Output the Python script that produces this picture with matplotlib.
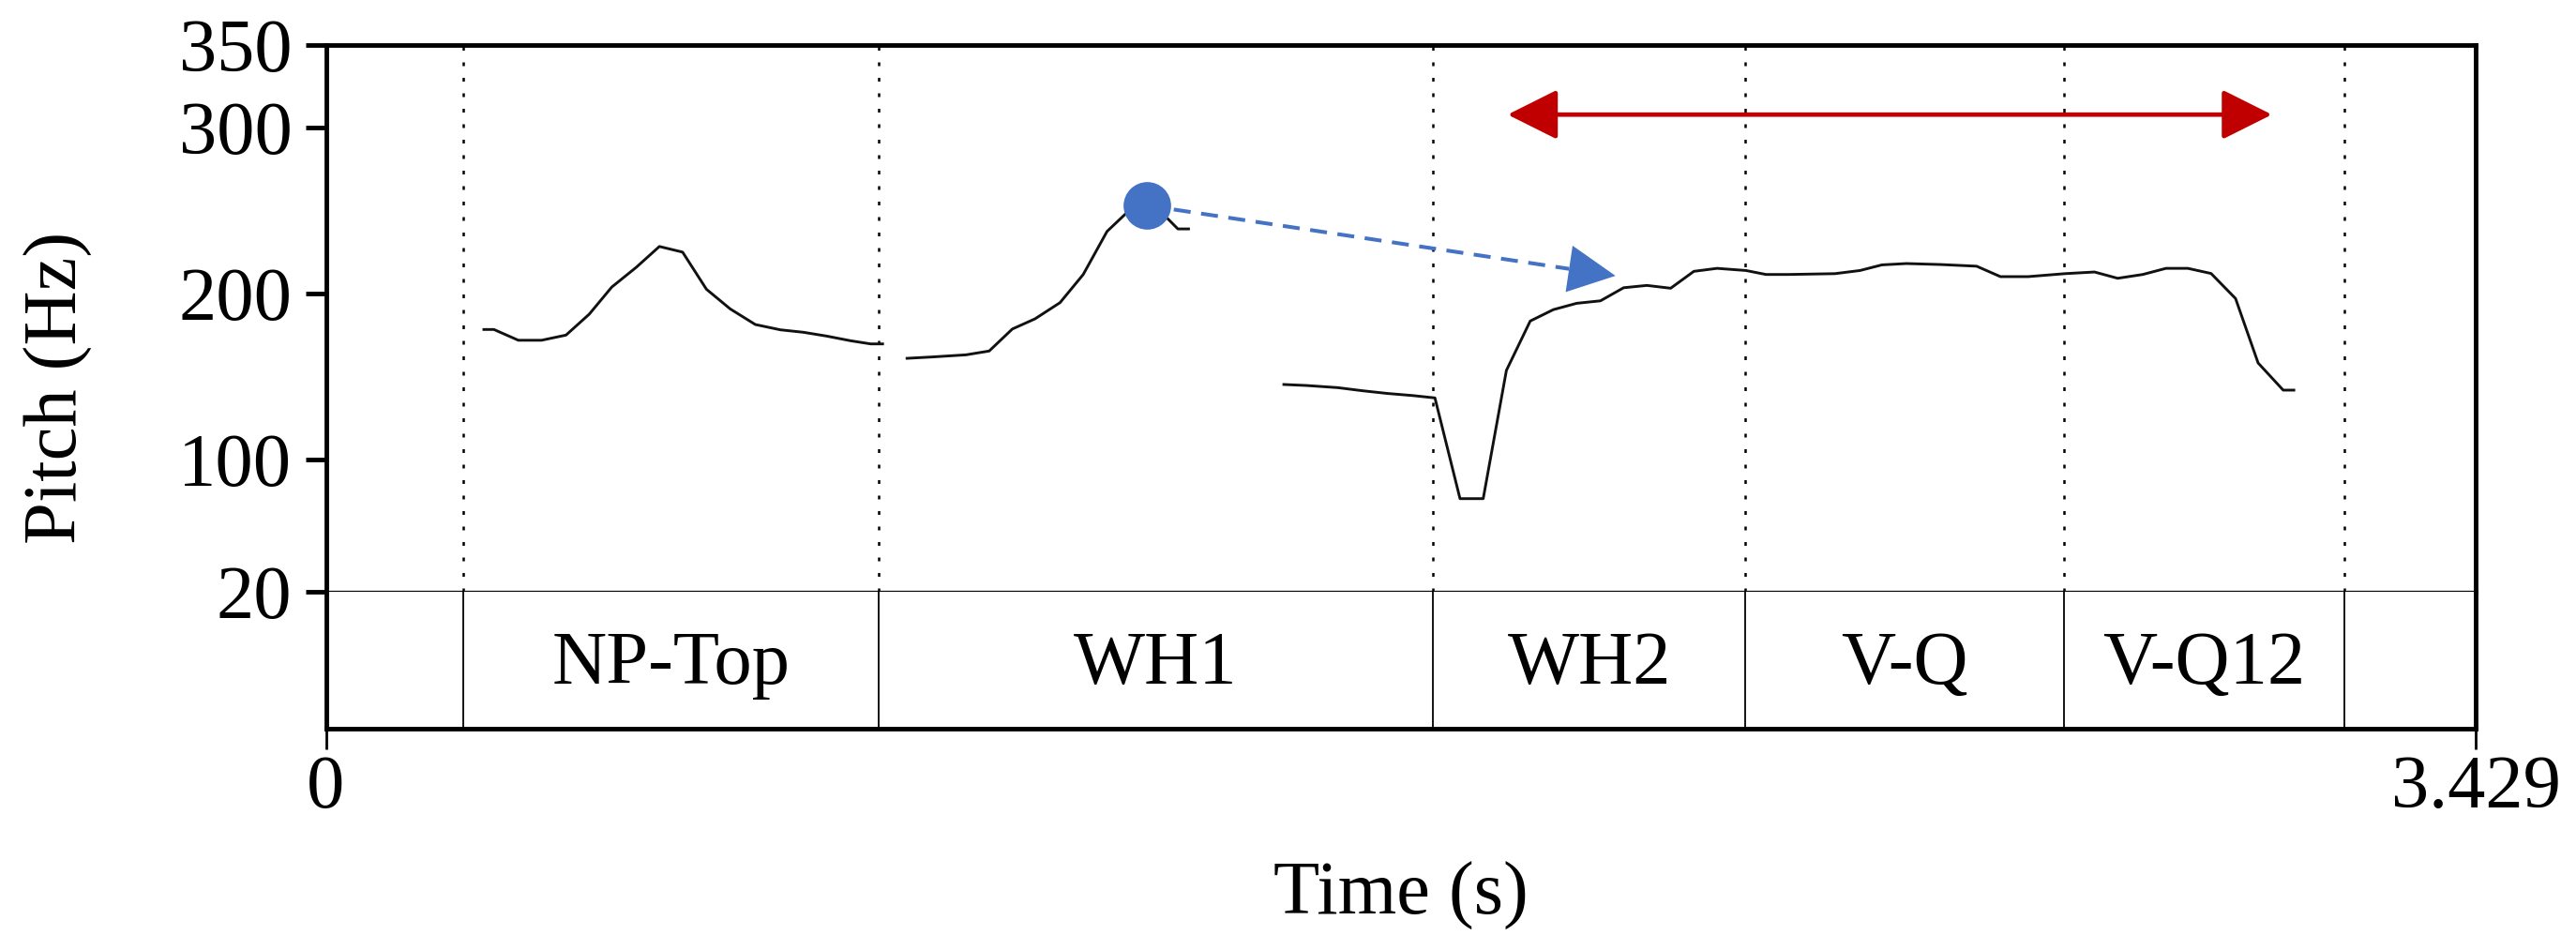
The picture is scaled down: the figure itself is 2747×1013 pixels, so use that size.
import matplotlib
matplotlib.use("Agg")
import matplotlib.pyplot as plt
from matplotlib.patches import FancyArrowPatch

plt.rcParams['font.family'] = ['Liberation Serif', 'DejaVu Serif']

# pitch contour (s, Hz), three voiced stretches
seg1_t = [0.252, 0.268, 0.307, 0.344, 0.383, 0.420, 0.456, 0.495, 0.532, 0.569,
          0.607, 0.645, 0.685, 0.725, 0.762, 0.799, 0.837, 0.869, 0.888]
seg1_f = [178.3, 178.3, 171.8, 171.8, 174.9, 187.5, 203.9, 215.8, 228.4, 225.0,
          202.6, 190.7, 181.3, 178.1, 176.6, 174.3, 171.5, 169.6, 169.6]

seg2_t = [0.927, 0.966, 1.021, 1.058, 1.095, 1.131, 1.171, 1.208, 1.246, 1.275,
          1.308, 1.343, 1.359, 1.376]
seg2_f = [160.9, 161.7, 163.0, 165.3, 178.6, 184.7, 194.5, 211.5, 237.5, 247.9,
          253.7, 245.1, 239.0, 239.0]

seg3_t = [1.528, 1.564, 1.614, 1.654, 1.693, 1.734, 1.769, 1.809, 1.846, 1.883,
          1.921, 1.958, 1.995, 2.033, 2.070, 2.107, 2.145, 2.182, 2.219, 2.265,
          2.297, 2.332, 2.407, 2.447, 2.482, 2.521, 2.576, 2.633, 2.671, 2.715,
          2.774, 2.821, 2.858, 2.898, 2.935, 2.970, 3.007, 3.046, 3.082, 3.122,
          3.139]
seg3_f = [145.1, 144.5, 143.2, 141.3, 139.7, 138.4, 137.0, 76.2, 76.2, 153.6,
          183.4, 190.3, 194.1, 195.6, 203.5, 204.9, 203.2, 213.4, 215.2, 213.9,
          211.5, 211.5, 212.0, 213.9, 217.3, 218.1, 217.5, 216.5, 210.2, 210.2,
          212.0, 213.0, 209.2, 211.5, 215.2, 215.2, 212.1, 197.0, 158.1, 141.7,
          141.7]

# textgrid tier
bounds = [0.219, 0.881, 1.766, 2.264, 2.773, 3.219]
labels = ['NP-Top', 'WH1', 'WH2', 'V-Q', 'V-Q12']

duration = 3.429
yticks = [20, 100, 200, 300, 350]

# annotation anchors (s, Hz)
dot_pt = (1.309, 253.2)
blue_base = (1.983, 214.9)
blue_tip = (2.057, 210.7)
red_left = (1.885, 308.0)
red_right = (3.104, 308.0)

BLUE = '#4472C4'
RED = '#C00000'
FS = 58

fig = plt.figure(figsize=(27.47, 10.13), dpi=100)
W, H = 2747, 1013
left, right = 347.5, 2640
ax = fig.add_axes([left / W, 1 - 631 / H, (right - left) / W, (631 - 48) / H])
tier = fig.add_axes([left / W, 1 - 777 / H, (right - left) / W, (777 - 631) / H], sharex=ax)

# pitch panel
for t, f in [(seg1_t, seg1_f), (seg2_t, seg2_f), (seg3_t, seg3_f)]:
    ax.plot(t, f, color='#111111', lw=2.1, zorder=3)
ax.vlines(bounds, 20, 350, colors='black', linestyles=(0, (1.6, 5)), lw=1.8, zorder=2)
ax.set_xlim(0, duration)
ax.set_ylim(20, 350)
ax.set_yticks(yticks)
ax.tick_params(axis='y', direction='out', length=16, width=3.5, pad=10, labelsize=FS)
ax.tick_params(axis='x', bottom=False, labelbottom=False)
for s in ['left', 'top', 'right']:
    ax.spines[s].set_linewidth(3.5)
ax.spines['bottom'].set_linewidth(1.6)

# red double arrow
ax.add_patch(FancyArrowPatch(red_left, red_right,
                             arrowstyle='<|-|>,head_length=33,head_width=16.5',
                             mutation_scale=1, lw=3.4, color=RED,
                             shrinkA=0, shrinkB=0, zorder=4))

# blue dashed arrow from the peak dot
ax.plot([dot_pt[0], blue_base[0]], [dot_pt[1], blue_base[1]], color=BLUE,
        lw=2.9, linestyle=(0, (4.5, 2.8)), zorder=4)
ax.add_patch(FancyArrowPatch(blue_base, blue_tip,
                             arrowstyle='-|>,head_length=36,head_width=18',
                             mutation_scale=1, lw=0, color=BLUE,
                             shrinkA=0, shrinkB=0, zorder=4))
ax.plot(*dot_pt, 'o', color=BLUE, markersize=36.5, markeredgewidth=0, zorder=5)

# tier panel
tier.set_ylim(0, 1)
tier.vlines(bounds, 0, 1, colors='black', lw=1.3)
for i, lab in enumerate(labels):
    mid = (bounds[i] + bounds[i + 1]) / 2
    tier.text(mid, 0.33, lab, ha='center', va='baseline', fontsize=FS)
tier.set_yticks([])
tier.set_xticks([0, duration])
tier.set_xticklabels(['0', '3.429'])
tier.tick_params(axis='x', direction='out', length=16, width=2, pad=4, labelsize=FS)
tier.spines['top'].set_visible(False)
for s in ['left', 'bottom', 'right']:
    tier.spines[s].set_linewidth(3.5)

fig.text(62 / W, 1 - 413 / H, 'Pitch (Hz)', rotation=90, ha='center', va='center', fontsize=FS)
fig.text((left + right) / 2 / W, 1 - 955 / H, 'Time (s)', ha='center', va='center', fontsize=FS)

fig.savefig('out.png', dpi=100)
